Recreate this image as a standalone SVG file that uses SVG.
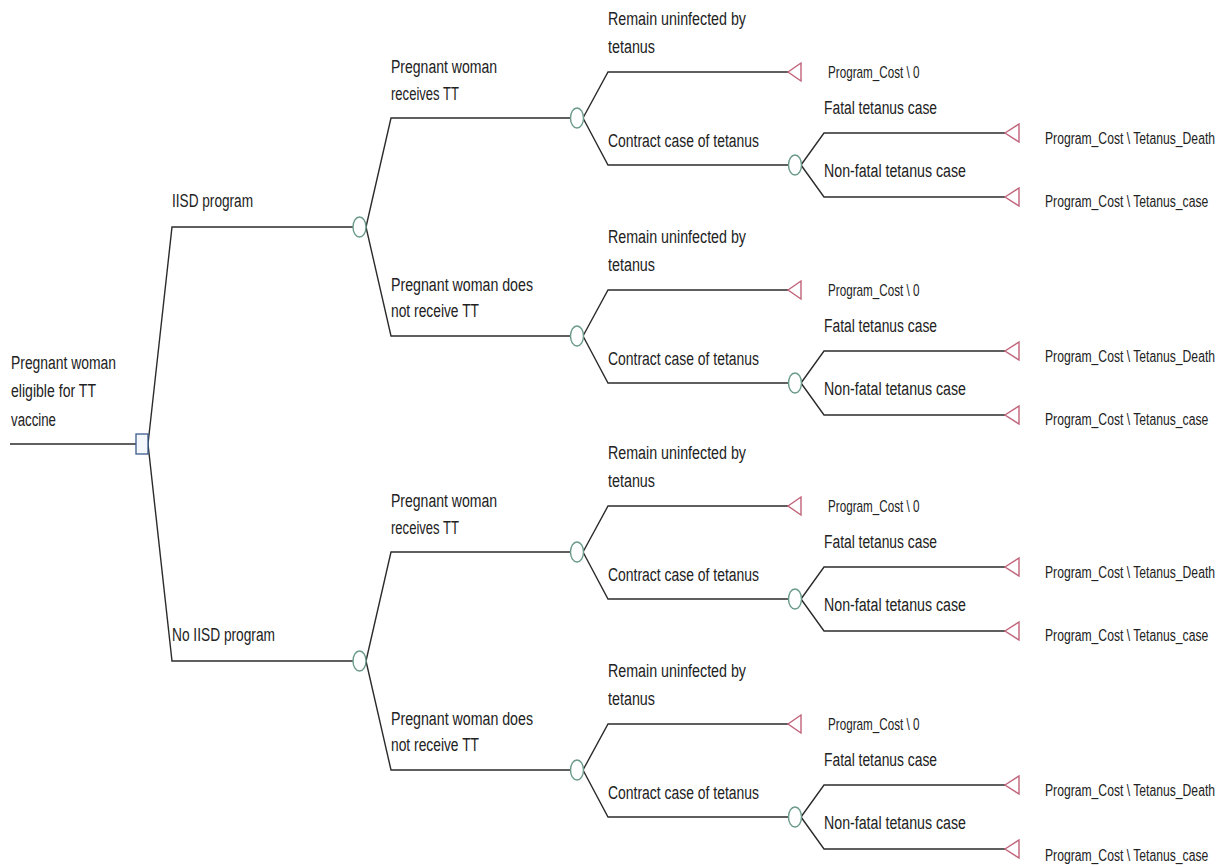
<svg xmlns="http://www.w3.org/2000/svg" width="1228" height="867" viewBox="0 0 1228 867">
<style>
.bg{fill:#ffffff}
.ln{fill:none;stroke:#2b2b2b;stroke-width:1.4;stroke-linejoin:miter}
.ch{fill:#ffffff;stroke:#6a9a8a;stroke-width:1.4}
.dc{fill:#f4f8fc;stroke:#3b5b8c;stroke-width:1.3}
.tm{fill:#ffffff;stroke:#c0637a;stroke-width:1.4}
.t{font-family:"Liberation Sans",Arial,sans-serif;font-size:18px;fill:#222222}
.p{font-family:"Liberation Sans",Arial,sans-serif;font-size:16px;fill:#222222}
</style>
<rect class="bg" x="0" y="0" width="1228" height="867"/>

<g id="connectors">
  <path class="ln" d="M10 444 L136 444"/>
  <path class="ln" d="M148 444 L172 227 L353 227"/>
  <path class="ln" d="M148 444 L172 661 L353 661"/>
  <path class="ln" d="M366 227 L391 118 L571 118"/>
  <path class="ln" d="M366 227 L391 336 L571 336"/>
  <path class="ln" d="M366 661 L391 552 L571 552"/>
  <path class="ln" d="M366 661 L391 770 L571 770"/>
  <path class="ln" d="M583 118 L608 72 L788 72"/>
  <path class="ln" d="M583 118 L608 165 L789 165"/>
  <path class="ln" d="M801 165 L824 133 L1005 133"/>
  <path class="ln" d="M801 165 L824 197 L1005 197"/>
  <path class="ln" d="M583 336 L608 290 L788 290"/>
  <path class="ln" d="M583 336 L608 383 L789 383"/>
  <path class="ln" d="M801 383 L824 351 L1005 351"/>
  <path class="ln" d="M801 383 L824 415 L1005 415"/>
  <path class="ln" d="M583 552 L608 506 L788 506"/>
  <path class="ln" d="M583 552 L608 599 L789 599"/>
  <path class="ln" d="M801 599 L824 567 L1005 567"/>
  <path class="ln" d="M801 599 L824 631 L1005 631"/>
  <path class="ln" d="M583 770 L608 724 L788 724"/>
  <path class="ln" d="M583 770 L608 817 L789 817"/>
  <path class="ln" d="M801 817 L824 785 L1005 785"/>
  <path class="ln" d="M801 817 L824 849 L1005 849"/>
</g>

<g id="root">
  <rect class="dc" x="136" y="434" width="12" height="20"/>
  <text class="t" x="11" y="369" textLength="105" lengthAdjust="spacingAndGlyphs">Pregnant woman</text>
  <text class="t" x="11" y="397" textLength="85" lengthAdjust="spacingAndGlyphs">eligible for TT</text>
  <text class="t" x="11" y="426" textLength="45" lengthAdjust="spacingAndGlyphs">vaccine</text>
</g>

<g id="iisd">
  <ellipse class="ch" cx="359.5" cy="227" rx="6.5" ry="10"/>
  <text class="t" x="172" y="207" textLength="81" lengthAdjust="spacingAndGlyphs">IISD program</text>
</g>
<g id="no-iisd">
  <ellipse class="ch" cx="359.5" cy="661" rx="6.5" ry="10"/>
  <text class="t" x="172" y="641" textLength="103" lengthAdjust="spacingAndGlyphs">No IISD program</text>
</g>

<g id="iisd-tt">
  <ellipse class="ch" cx="577" cy="118" rx="6.5" ry="10"/>
  <text class="t" x="391" y="73" textLength="106" lengthAdjust="spacingAndGlyphs">Pregnant woman</text>
  <text class="t" x="391" y="100" textLength="68" lengthAdjust="spacingAndGlyphs">receives TT</text>
</g>
<g id="iisd-tt-uninf">
  <polygon class="tm" points="788,72 801,63 801,81"/>
  <text class="t" x="608" y="25" textLength="138" lengthAdjust="spacingAndGlyphs">Remain uninfected by</text>
  <text class="t" x="608" y="53" textLength="47" lengthAdjust="spacingAndGlyphs">tetanus</text>
  <text class="p" transform="translate(828,78) scale(0.73,1)">Program_Cost \ 0</text>
</g>
<g id="iisd-tt-case">
  <ellipse class="ch" cx="795" cy="165" rx="6.5" ry="10"/>
  <text class="t" x="608" y="147" textLength="151" lengthAdjust="spacingAndGlyphs">Contract case of tetanus</text>
</g>
<g id="iisd-tt-fatal">
  <polygon class="tm" points="1005,133 1019,124 1019,142"/>
  <text class="t" x="824" y="114" textLength="113" lengthAdjust="spacingAndGlyphs">Fatal tetanus case</text>
  <text class="p" transform="translate(1045,144) scale(0.76,1)">Program_Cost \ Tetanus_Death</text>
</g>
<g id="iisd-tt-nonfatal">
  <polygon class="tm" points="1005,197 1019,188 1019,206"/>
  <text class="t" x="824" y="177" textLength="142" lengthAdjust="spacingAndGlyphs">Non-fatal tetanus case</text>
  <text class="p" transform="translate(1045,207) scale(0.76,1)">Program_Cost \ Tetanus_case</text>
</g>

<g id="iisd-nott">
  <ellipse class="ch" cx="577" cy="336" rx="6.5" ry="10"/>
  <text class="t" x="391" y="291" textLength="142" lengthAdjust="spacingAndGlyphs">Pregnant woman does</text>
  <text class="t" x="391" y="317" textLength="88" lengthAdjust="spacingAndGlyphs">not receive TT</text>
</g>
<g id="iisd-nott-uninf">
  <polygon class="tm" points="788,290 801,281 801,299"/>
  <text class="t" x="608" y="243" textLength="138" lengthAdjust="spacingAndGlyphs">Remain uninfected by</text>
  <text class="t" x="608" y="271" textLength="47" lengthAdjust="spacingAndGlyphs">tetanus</text>
  <text class="p" transform="translate(828,296) scale(0.73,1)">Program_Cost \ 0</text>
</g>
<g id="iisd-nott-case">
  <ellipse class="ch" cx="795" cy="383" rx="6.5" ry="10"/>
  <text class="t" x="608" y="365" textLength="151" lengthAdjust="spacingAndGlyphs">Contract case of tetanus</text>
</g>
<g id="iisd-nott-fatal">
  <polygon class="tm" points="1005,351 1019,342 1019,360"/>
  <text class="t" x="824" y="332" textLength="113" lengthAdjust="spacingAndGlyphs">Fatal tetanus case</text>
  <text class="p" transform="translate(1045,362) scale(0.76,1)">Program_Cost \ Tetanus_Death</text>
</g>
<g id="iisd-nott-nonfatal">
  <polygon class="tm" points="1005,415 1019,406 1019,424"/>
  <text class="t" x="824" y="395" textLength="142" lengthAdjust="spacingAndGlyphs">Non-fatal tetanus case</text>
  <text class="p" transform="translate(1045,425) scale(0.76,1)">Program_Cost \ Tetanus_case</text>
</g>

<g id="no-tt">
  <ellipse class="ch" cx="577" cy="552" rx="6.5" ry="10"/>
  <text class="t" x="391" y="507" textLength="106" lengthAdjust="spacingAndGlyphs">Pregnant woman</text>
  <text class="t" x="391" y="534" textLength="68" lengthAdjust="spacingAndGlyphs">receives TT</text>
</g>
<g id="no-tt-uninf">
  <polygon class="tm" points="788,506 801,497 801,515"/>
  <text class="t" x="608" y="459" textLength="138" lengthAdjust="spacingAndGlyphs">Remain uninfected by</text>
  <text class="t" x="608" y="487" textLength="47" lengthAdjust="spacingAndGlyphs">tetanus</text>
  <text class="p" transform="translate(828,512) scale(0.73,1)">Program_Cost \ 0</text>
</g>
<g id="no-tt-case">
  <ellipse class="ch" cx="795" cy="599" rx="6.5" ry="10"/>
  <text class="t" x="608" y="581" textLength="151" lengthAdjust="spacingAndGlyphs">Contract case of tetanus</text>
</g>
<g id="no-tt-fatal">
  <polygon class="tm" points="1005,567 1019,558 1019,576"/>
  <text class="t" x="824" y="548" textLength="113" lengthAdjust="spacingAndGlyphs">Fatal tetanus case</text>
  <text class="p" transform="translate(1045,578) scale(0.76,1)">Program_Cost \ Tetanus_Death</text>
</g>
<g id="no-tt-nonfatal">
  <polygon class="tm" points="1005,631 1019,622 1019,640"/>
  <text class="t" x="824" y="611" textLength="142" lengthAdjust="spacingAndGlyphs">Non-fatal tetanus case</text>
  <text class="p" transform="translate(1045,641) scale(0.76,1)">Program_Cost \ Tetanus_case</text>
</g>

<g id="no-nott">
  <ellipse class="ch" cx="577" cy="770" rx="6.5" ry="10"/>
  <text class="t" x="391" y="725" textLength="142" lengthAdjust="spacingAndGlyphs">Pregnant woman does</text>
  <text class="t" x="391" y="751" textLength="88" lengthAdjust="spacingAndGlyphs">not receive TT</text>
</g>
<g id="no-nott-uninf">
  <polygon class="tm" points="788,724 801,715 801,733"/>
  <text class="t" x="608" y="677" textLength="138" lengthAdjust="spacingAndGlyphs">Remain uninfected by</text>
  <text class="t" x="608" y="705" textLength="47" lengthAdjust="spacingAndGlyphs">tetanus</text>
  <text class="p" transform="translate(828,730) scale(0.73,1)">Program_Cost \ 0</text>
</g>
<g id="no-nott-case">
  <ellipse class="ch" cx="795" cy="817" rx="6.5" ry="10"/>
  <text class="t" x="608" y="799" textLength="151" lengthAdjust="spacingAndGlyphs">Contract case of tetanus</text>
</g>
<g id="no-nott-fatal">
  <polygon class="tm" points="1005,785 1019,776 1019,794"/>
  <text class="t" x="824" y="766" textLength="113" lengthAdjust="spacingAndGlyphs">Fatal tetanus case</text>
  <text class="p" transform="translate(1045,796) scale(0.76,1)">Program_Cost \ Tetanus_Death</text>
</g>
<g id="no-nott-nonfatal">
  <polygon class="tm" points="1005,849 1019,840 1019,858"/>
  <text class="t" x="824" y="829" textLength="142" lengthAdjust="spacingAndGlyphs">Non-fatal tetanus case</text>
  <text class="p" transform="translate(1045,861) scale(0.76,1)">Program_Cost \ Tetanus_case</text>
</g>
</svg>
